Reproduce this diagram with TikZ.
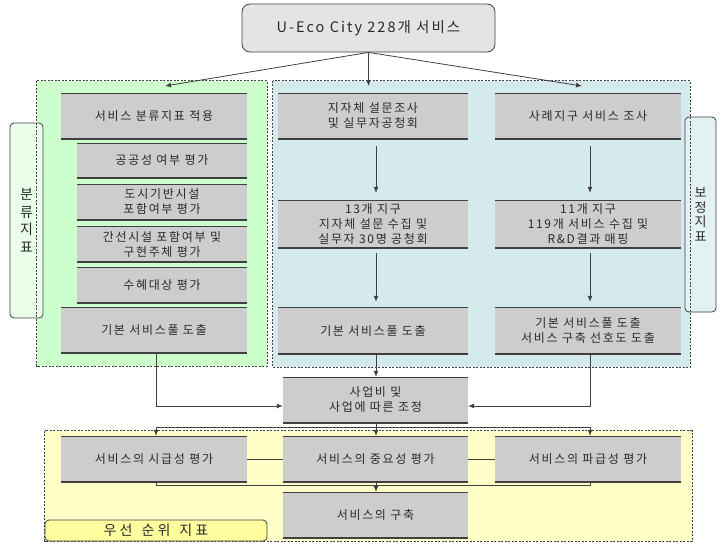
\documentclass[tikz,border=0pt]{standalone}
\usepackage{fontspec}
\setmainfont{Noto Sans CJK KR}[LetterSpace=14]
\newfontfamily\widefont{Noto Sans CJK KR}[LetterSpace=22]
\usetikzlibrary{arrows.meta}
\definecolor{boxgray}{HTML}{CDCDCD}
\definecolor{edgec}{HTML}{404040}
\definecolor{txt}{HTML}{2A2A2A}
\definecolor{greenR}{HTML}{CCFFCC}
\definecolor{blueR}{HTML}{D5EAEC}
\definecolor{yellowR}{HTML}{FFFFC8}
\definecolor{labelG}{HTML}{EAFFEA}
\definecolor{labelB}{HTML}{E2F2F2}
\definecolor{labelY}{HTML}{FFFFA0}
\definecolor{topfill}{HTML}{E4E4E4}
\begin{document}
\begin{tikzpicture}[x=1pt,y=-1pt,
  gbox/.style={fill=boxgray, inner sep=0pt, align=center, text=txt,
    font=\fontsize{12}{15}\selectfont,
    path picture={
      \draw[line width=1.6pt, edgec] (path picture bounding box.north west) -- (path picture bounding box.north east);
      \draw[line width=2pt, edgec] (path picture bounding box.south west) -- (path picture bounding box.south east);}},
  region/.style={inner sep=0pt, draw=none},
  regborder/.style={draw=edgec, line width=0.8pt, dash pattern=on 2pt off 1.5pt},
  lab/.style={draw=edgec, line width=0.8pt, rounded corners=4pt, inner sep=0pt, align=center, text=txt},
  arr/.style={draw=edgec, line width=0.8pt, -{Latex[length=6pt,width=5pt]}},
  ln/.style={draw=edgec, line width=0.8pt}
]
\useasboundingbox (0,0) rectangle (724,544);

% regions (fills)
\node[region, fill=greenR, minimum width=230pt, minimum height=285pt] (G) at (152,223.5) {};
\node[region, fill=blueR, minimum width=417pt, minimum height=286pt] (B) at (481.5,224) {};
\node[region, fill=yellowR, minimum width=647pt, minimum height=110pt] (Y) at (368.5,486) {};

% side labels
\node[lab, fill=labelG, minimum width=33pt, minimum height=195pt, font=\fontsize{14}{17.5}\selectfont] (LG) at (26.5,220.5) {분\\류\\지\\표};
\node[lab, fill=labelB, minimum width=31pt, minimum height=195pt, font=\fontsize{13}{14.5}\selectfont] (LB) at (700.5,214.5) {보\\정\\지\\표};

% region borders
\draw[regborder] (G.north west) rectangle (G.south east);
\draw[regborder] (B.north west) rectangle (B.south east);
\draw[regborder] (Y.north west) rectangle (Y.south east);

% priority label
\node[lab, fill=labelY, minimum width=222pt, minimum height=21pt, font=\widefont\fontsize{14}{16}\selectfont] (LY) at (156,530.5) {우선\hspace{9pt}순위\hspace{9pt}지표};

% top node
\node[draw=edgec, line width=0.8pt, fill=topfill, rounded corners=8pt, minimum width=253pt, minimum height=48pt, inner sep=0pt, text=txt, font=\fontsize{14.5}{16}\selectfont] (T) at (368.5,28) {U-Eco City 228개 서비스};

% green column
\node[gbox, minimum width=186pt, minimum height=46pt] (A1) at (154,116) {서비스 분류지표 적용};
\node[gbox, minimum width=170pt, minimum height=35pt] (A2) at (162,160.5) {공공성 여부 평가};
\node[gbox, minimum width=170pt, minimum height=36pt] (A3) at (162,202) {도시기반시설\\포함여부 평가};
\node[gbox, minimum width=170pt, minimum height=36pt] (A4) at (162,244) {간선시설 포함여부 및\\구현주체 평가};
\node[gbox, minimum width=170pt, minimum height=36pt] (A5) at (162,285) {수혜대상 평가};
\node[gbox, minimum width=186pt, minimum height=46pt] (A6) at (154,330) {기본 서비스풀 도출};

% blue columns
\node[gbox, minimum width=190pt, minimum height=46pt] (B1) at (373,116) {지자체 설문조사\\및 실무자공청회};
\node[gbox, minimum width=186pt, minimum height=46pt] (C1) at (588,116) {사례지구 서비스 조사};
\node[gbox, minimum width=190pt, minimum height=48pt] (B2) at (373,224) {13개 지구\\지자체 설문 수집 및\\실무자 30명 공청회};
\node[gbox, minimum width=186pt, minimum height=48pt] (C2) at (588,224) {11개 지구\\119개 서비스 수집 및\\R\&D결과 매핑};
\node[gbox, minimum width=190pt, minimum height=47pt] (B3) at (373,330.5) {기본 서비스풀 도출};
\node[gbox, minimum width=186pt, minimum height=47pt] (C3) at (588,330.5) {기본 서비스풀 도출\\서비스 구축 선호도 도출};

% middle
\node[gbox, minimum width=185pt, minimum height=46pt] (D) at (375.5,400) {사업비 및\\사업에 따른 조정};

% yellow row
\node[gbox, minimum width=186pt, minimum height=46pt] (Y1) at (154,459) {서비스의 시급성 평가};
\node[gbox, minimum width=185pt, minimum height=46pt] (Y2) at (375.5,459) {서비스의 중요성 평가};
\node[gbox, minimum width=186pt, minimum height=46pt] (Y3) at (588,459) {서비스의 파급성 평가};
\node[gbox, minimum width=185pt, minimum height=46pt] (Y4) at (375.5,515) {서비스의 구축};

% top arrows
\coordinate (gl) at (165,86);
\coordinate (gm) at (368.5,86);
\coordinate (gr) at (582,86);
\draw[arr] (T.south) -- (gl);
\draw[arr] (T.south) -- (gm);
\draw[arr] (T.south) -- (gr);

% blue column arrows
\draw[arr, shorten <=7pt, shorten >=7pt] ([xshift=3pt]B1.south) -- ([xshift=3pt]B2.north);
\draw[arr, shorten <=7pt, shorten >=7pt] ([xshift=2pt]C1.south) -- ([xshift=2pt]C2.north);
\draw[arr, shorten <=5pt, shorten >=5pt] ([xshift=3pt]B2.south) -- ([xshift=3pt]B3.north);
\draw[arr, shorten <=5pt, shorten >=5pt] ([xshift=2pt]C2.south) -- ([xshift=2pt]C3.north);

% into D
\draw[arr] ([xshift=3pt]B3.south) -- ([xshift=0.5pt]D.north);
\draw[arr] ([xshift=2pt]A6.south) |- ([yshift=-6pt]D.west);
\draw[arr] ([xshift=2pt]C3.south) |- ([yshift=-6pt]D.east);

% distribution to yellow row
\coordinate (dl) at (156,427);
\coordinate (dr) at (590,427);
\draw[ln] (dl) -- (dr);
\draw[arr] (dl) -- ([xshift=2pt]Y1.north);
\draw[arr] (dr) -- ([xshift=2pt]Y3.north);
\draw[arr] ([xshift=0.5pt]D.south) -- ([xshift=0.5pt]Y2.north);

% row connectors
\draw[ln] (Y1.east) -- (Y2.west);
\draw[ln] (Y2.east) -- (Y3.west);

% collect to Y4
\coordinate (bl) at (156,485);
\coordinate (br) at (590,485);
\draw[ln] ([xshift=2pt]Y1.south) -- (bl) -- (br) -- ([xshift=2pt]Y3.south);
\draw[arr] ([xshift=0.5pt]Y2.south) -- ([xshift=0.5pt]Y4.north);
\end{tikzpicture}
\end{document}
